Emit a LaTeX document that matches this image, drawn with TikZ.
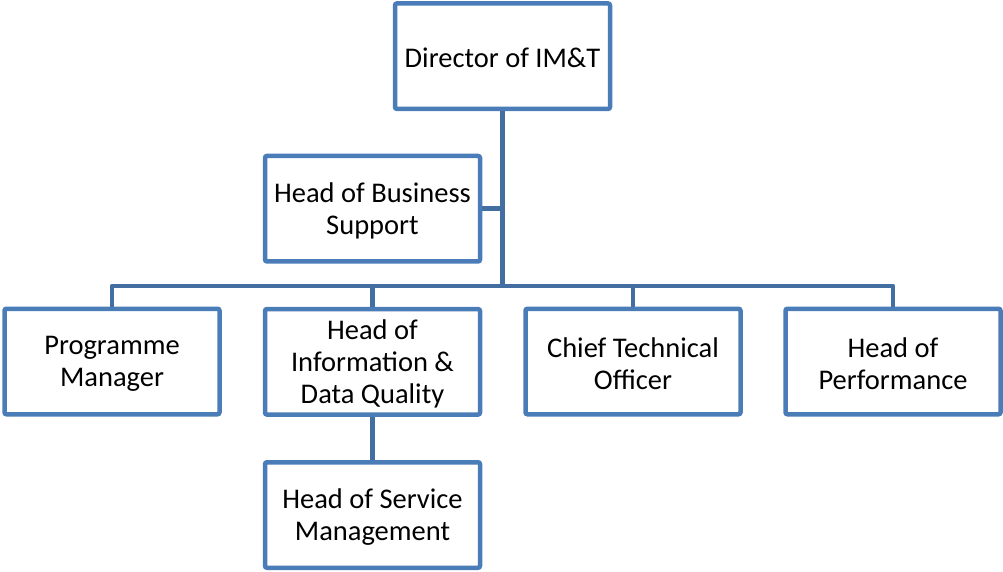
\documentclass[tikz,border=0pt]{standalone}
\usepackage{fontspec}
\setmainfont{Carlito}
\definecolor{boxline}{RGB}{74,124,184}
\definecolor{connline}{RGB}{66,110,162}
\tikzset{
  orgbox/.style={draw=boxline, line width=4.5pt, fill=white, rounded corners=2pt,
    minimum width=215pt, minimum height=105.5pt, inner sep=0pt, align=flush center,
    text width=214pt, font=\fontsize{28.5}{32}\selectfont},
  conn/.style={draw=connline, line width=4.5pt, line join=round},
  lbl/.style={inner sep=0pt, align=flush center, text width=214pt, font=\fontsize{28.5}{32}\selectfont}
}
\begin{document}
\begin{tikzpicture}[x=1pt,y=-1pt]
\useasboundingbox (0,0) rectangle (1003,572);
\node[orgbox] (dir) at (502.5,56.2) {};
\node[orgbox] (bs) at (372.5,208.7) {};
\node[orgbox] (pm) at (112,361.5) {};
\node[orgbox] (hidq) at (372.5,361.8) {};
\node[orgbox] (cto) at (633,361.5) {};
\node[orgbox] (hp) at (893,361.5) {};
\node[orgbox] (hsm) at (372.5,515) {};
\node[lbl] (tdir) at ([yshift=-2pt]dir.center) {Director of IM\&T};
\node[lbl] (tbs) at ([yshift=-2pt]bs.center) {Head of Business\\Support};
\node[lbl] (tpm) at ([yshift=-2.5pt]pm.center) {Programme\\Manager};
\node[lbl] (thidq) at ([yshift=-2pt]hidq.center) {Head of\\Information \&\\Data Quality};
\node[lbl] (tcto) at ([yshift=-2pt]cto.center) {Chief Technical\\Officer};
\node[lbl] (thp) at ([yshift=-2pt]hp.center) {Head of\\Performance};
\node[lbl] (thsm) at ([yshift=-2pt]hsm.center) {Head of Service\\Management};
\coordinate (bus) at (502.5,286);
\draw[conn] (dir.south) -- (bus);
\draw[conn] (bs.east) -- (dir.south |- bs.east);
\draw[conn] (pm.north) -- (pm.north |- bus) -- (hp.north |- bus) -- (hp.north);
\draw[conn] (hidq.north) -- (hidq.north |- bus);
\draw[conn] (cto.north) -- (cto.north |- bus);
\draw[conn] (hidq.south) -- (hsm.north);
\end{tikzpicture}
\end{document}
